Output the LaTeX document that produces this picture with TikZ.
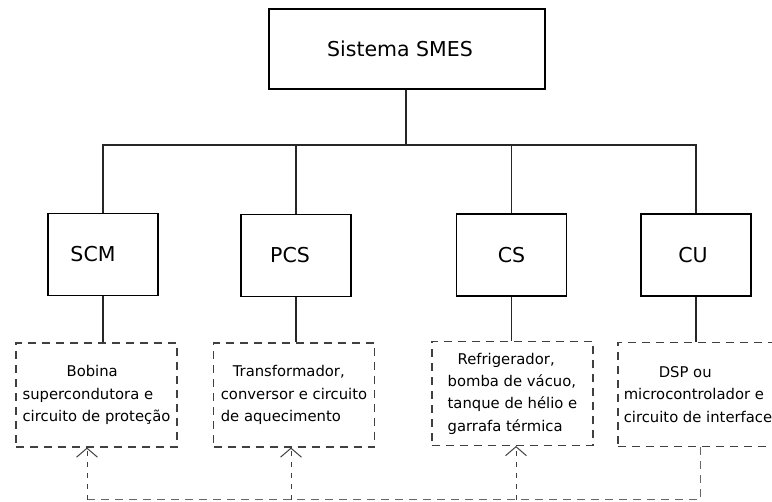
\documentclass[tikz,border=0pt]{standalone}
\usepackage{fontspec}
\setmainfont{DejaVu Sans}
\usepackage{tikz}
\usetikzlibrary{arrows.meta,positioning}

\begin{document}
\begin{tikzpicture}[
    x=1pt, y=-1pt,
    topnode/.style={draw, rectangle, line width=1.1pt, minimum width=276pt, minimum height=80pt, font=\fontsize{20.5}{24}\selectfont},
    subnode/.style={draw, rectangle, line width=1.1pt, minimum width=110pt, minimum height=82pt, font=\fontsize{20.5}{24}\selectfont},
    descnode/.style={draw=black!75, dash pattern=on 8pt off 6pt, line width=1.1pt, minimum width=161pt, minimum height=104pt, align=left, inner sep=2pt, font=\fontsize{14.8}{22.3}\selectfont},
    myedge/.style={line width=1.1pt, draw=black!85},
    fbedge/.style={line width=1pt, draw=black!60, dash pattern=on 8pt off 6pt},
    fbarrow/.style={line width=1pt, draw=black!75, dash pattern=on 5pt off 6pt, -{Straight Barb[length=9pt,width=21pt,line width=1pt]}}
]
\useasboundingbox (0,0) rectangle (772,502);

% top level
\node[topnode] (sys) at (407,49) {Sistema SMES\hspace*{14pt}};

% subsystems
\node[subnode] (scm) at (103,254.5) {SCM\hspace*{20pt}};
\node[subnode] (pcs) at (296,255.5) {PCS\hspace*{12pt}};
\node[subnode] (cs)  at (511.5,255) {CS};
\node[subnode] (cu)  at (696,255) {CU\hspace*{6pt}};

% descriptions
\node[descnode] (d1) at (96.5,395) {\hspace*{44pt}Bobina\\supercondutora e\\circuito de proteção};
\node[descnode] (d2) at (294,395) {\hspace*{12pt}Transformador,\\conversor e circuito\\de aquecimento};
\node[descnode] (d3) at (512.5,393.5) {\hspace*{10pt}Refrigerador,\\bomba de vácuo,\\tanque de hélio e\\garrafa térmica};
\node[descnode, minimum width=160pt] (d4) at (698,394.5) {\hspace*{35pt}DSP ou\\microcontrolador e\\circuito de interface};

% tree
\coordinate (bus) at (406,145);
\draw[myedge] (sys.south -| bus) -- (bus);
\foreach \n in {scm,pcs,cs,cu}
    \draw[myedge] (\n.north) |- (bus);
\foreach \n/\d in {scm/d1,pcs/d2,cs/d3,cu/d4}
    \draw[myedge] (\n.south) -- (\n.south |- \d.north);

% feedback from CU
\coordinate (b1) at (87,500);
\coordinate (b2) at (291,500);
\coordinate (b3) at (516,500);
\coordinate (b4) at (700,500);
\draw[fbedge] (b4 |- d4.south) -- (b4) -- (b1);
\foreach \i in {1,2,3}
    \draw[fbarrow] (b\i) -- (b\i |- d\i.south);
\end{tikzpicture}
\end{document}
